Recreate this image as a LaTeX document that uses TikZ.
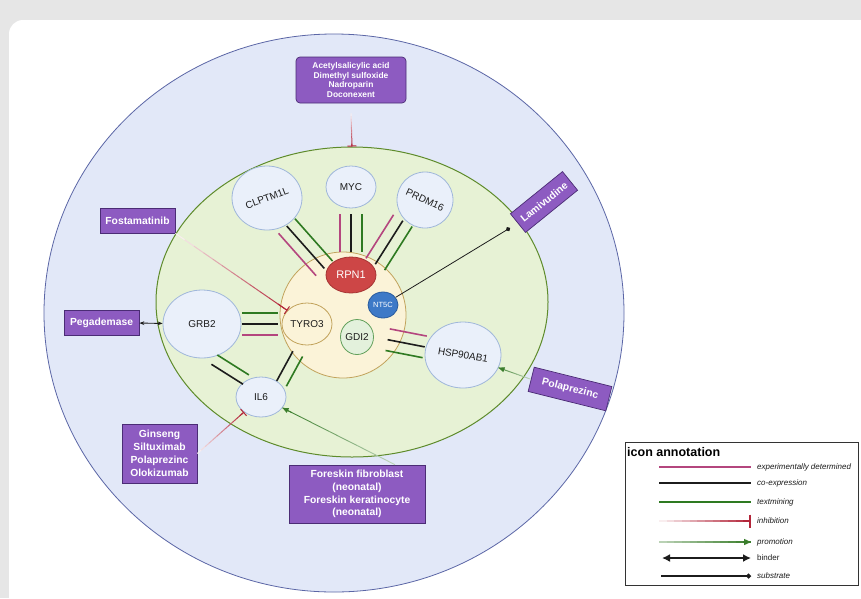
\documentclass[tikz,border=0pt]{standalone}
\usepackage{fontspec}
\setmainfont{Liberation Sans}
\usepackage{tikz}
\usetikzlibrary{calc,positioning,arrows.meta,shapes.geometric}
\usepackage{xcolor}
\definecolor{pagegray}{HTML}{E6E6E6}
\definecolor{outerfill}{HTML}{E2E8F8}
\definecolor{outerbd}{HTML}{5B66A6}
\definecolor{cellfill}{HTML}{E7F2D5}
\definecolor{cellbd}{HTML}{5E8B2B}
\definecolor{corefill}{HTML}{FBF3D8}
\definecolor{corebd}{HTML}{C2A35C}
\definecolor{genefill}{HTML}{EAF0FA}
\definecolor{genebd}{HTML}{A0B7DA}
\definecolor{rpnfill}{HTML}{CD4646}
\definecolor{rpnbd}{HTML}{A63434}
\definecolor{ntfill}{HTML}{3D79C7}
\definecolor{ntbd}{HTML}{2A5C9E}
\definecolor{gdifill}{HTML}{E3F1DC}
\definecolor{gdibd}{HTML}{62A05B}
\definecolor{drugfill}{HTML}{8D5BC1}
\definecolor{drugbd}{HTML}{4B2C75}
\definecolor{linkpink}{HTML}{B4467E}
\definecolor{linkblack}{HTML}{1C1C1C}
\definecolor{linkgreen}{HTML}{2E7A21}
\definecolor{inhred}{HTML}{B3263A}
\definecolor{progreen}{HTML}{3B7E2C}
\definecolor{legbd}{HTML}{333333}

% parallel evidence lines between two anchors
\newcommand{\triplink}[4][]{%
  \foreach \col/\off in {#4}
    \draw[link, \col, #1] ($(#2)!\off!90:(#3)$) -- ($(#3)!\off!-90:(#2)$);
}
% fading inhibition line with bar
\newcommand{\inhibit}[3][]{%
  \path (#2) -- (#3) coordinate[pos=0] (ih-s) coordinate[pos=1] (ih-e);
  \foreach \k in {1,...,12}{
    \pgfmathtruncatemacro\fadeval{100*\k/12}
    \draw[inhred!\fadeval, line width=1pt, #1] ($(ih-s)!{(\k-1)/12}!(ih-e)$) -- ($(ih-s)!{\k/12}!(ih-e)$);
  }
  \draw[inhred, line width=1pt, #1, inhtip] ($(ih-s)!{11/12}!(ih-e)$) -- (ih-e);
}
% fading promotion arrow
\newcommand{\promote}[3][]{%
  \path (#2) -- (#3) coordinate[pos=0] (pr-s) coordinate[pos=1] (pr-e);
  \foreach \k in {1,...,12}{
    \pgfmathtruncatemacro\fadeval{30+70*\k/12}
    \draw[progreen!\fadeval, line width=0.9pt, #1] ($(pr-s)!{(\k-1)/12}!(pr-e)$) -- ($(pr-s)!{\k/12}!(pr-e)$);
  }
  \draw[progreen, line width=0.9pt, #1, protip] ($(pr-s)!{11/12}!(pr-e)$) -- (pr-e);
}

\begin{document}
\begin{tikzpicture}[x=1pt, y=-1pt,
    gene/.style={ellipse, draw=genebd, fill=genefill, line width=0.8pt, inner sep=0pt,
      font=\fontsize{10}{12}\selectfont, text=linkblack},
    genelabel/.style={font=\fontsize{10}{12}\selectfont, text=linkblack, inner sep=0pt},
    drug/.style={draw=drugbd, fill=drugfill, line width=0.7pt, text=white, align=center,
      font=\bfseries\fontsize{10.3}{12.8}\selectfont, inner sep=1pt},
    link/.style={line width=1.6pt},
    inhtip/.style={-{Bar[width=9pt]}},
    protip/.style={-{Triangle[length=6pt, width=5pt]}},
    legtext/.style={font=\itshape\fontsize{8}{9}\selectfont, text=linkblack, anchor=west, inner sep=0pt}
  ]
  \useasboundingbox (0,0) rectangle (861,598);
  \fill[pagegray] (0,0) rectangle (861,598);
  \fill[white, rounded corners=14pt] (9,20) rectangle (900,640);

  % compartments
  \node[ellipse, draw=outerbd, fill=outerfill, line width=0.8pt,
    minimum width=580pt, minimum height=558pt] (extra) at (334,313) {};
  \node[ellipse, draw=cellbd, fill=cellfill, line width=1pt,
    minimum width=392pt, minimum height=310pt] (cell) at (352,302) {};
  \node[circle, draw=corebd, fill=corefill, line width=0.8pt,
    minimum size=126pt] (core) at (343,315) {};

  % proteins
  \node[gene, minimum width=70pt, minimum height=64pt] (clptm) at (267,198) {};
  \node[genelabel, rotate=21] (clptm-t) at (clptm) {CLPTM1L};
  \node[gene, minimum width=50pt, minimum height=42pt] (myc) at (351,187) {MYC};
  \node[gene, minimum width=56pt, minimum height=56pt] (prdm) at (425,200) {};
  \node[genelabel, rotate=-25] (prdm-t) at (prdm) {PRDM16};
  \node[gene, minimum width=78pt, minimum height=68pt] (grb) at (202,324) {GRB2};
  \node[gene, minimum width=50pt, minimum height=40pt] (il6) at (261,397) {IL6};
  \node[gene, minimum width=76pt, minimum height=66pt] (hsp) at (463,355) {};
  \node[genelabel, rotate=-10] (hsp-t) at (hsp) {HSP90AB1};
  \node[gene, draw=corebd, fill=corefill, minimum width=50pt, minimum height=42pt] (tyro) at (307,324) {TYRO3};
  \node[gene, draw=rpnbd, fill=rpnfill, text=white, font=\fontsize{11}{13}\selectfont,
    minimum width=50pt, minimum height=36pt] (rpn) at (351,275) {RPN1};
  \node[gene, draw=ntbd, fill=ntfill, text=white, font=\fontsize{7.5}{9}\selectfont,
    minimum width=30pt, minimum height=26pt] (nt5c) at (383,305) {NT5C};
  \node[gene, draw=gdibd, fill=gdifill, minimum width=32pt, minimum height=35pt] (gdi) at (357,337) {GDI2};

  % drugs and cells
  \node[drug, rounded corners=4pt, minimum width=110pt, minimum height=46pt,
    font=\bfseries\fontsize{8.4}{9.8}\selectfont] (acet) at (351,80)
    {Acetylsalicylic acid\\Dimethyl sulfoxide\\Nadroparin\\Doconexent};
  \node[drug, minimum width=75pt, minimum height=25pt] (fost) at (137.5,220.5) {Fostamatinib};
  \node[drug, minimum width=75pt, minimum height=25pt] (pegad) at (101.5,322.5) {Pegademase};
  \node[drug, rotate=39, minimum width=67pt, minimum height=24pt] (lamiv) at (544,202) {Lamivudine};
  \node[drug, rotate=-14, minimum width=80pt, minimum height=25pt] (polap) at (570,389) {Polaprezinc};
  \node[drug, minimum width=75pt, minimum height=59pt] (gins) at (159.5,453.5)
    {Ginseng\\Siltuximab\\Polaprezinc\\Olokizumab};
  \node[drug, minimum width=136pt, minimum height=58pt] (fore) at (357,494)
    {Foreskin fibroblast\\(neonatal)\\Foreskin keratinocyte\\(neonatal)};

  % interactions
  \triplink[shorten <=1pt, shorten >=3pt]{clptm.-55}{rpn.170}{linkpink/-11pt, linkblack/0pt, linkgreen/11pt}
  \triplink[shorten <=6pt, shorten >=5pt]{myc.south}{rpn.north}{linkpink/-11pt, linkblack/0pt, linkgreen/11pt}
  \triplink[shorten <=2pt, shorten >=3pt]{prdm.-138}{rpn.20}{linkpink/-11pt, linkblack/0pt, linkgreen/11pt}
  \triplink[shorten <=1pt, shorten >=4pt]{grb.east}{tyro.west}{linkpink/-11pt, linkblack/0pt, linkgreen/11pt}
  \triplink[shorten <=4pt, shorten >=1pt]{grb.-75}{il6.130}{linkblack/-5.5pt, linkgreen/5.5pt}
  \triplink[shorten <=1pt, shorten >=10pt]{il6.32}{tyro.-102}{linkblack/5.5pt, linkgreen/-5.5pt}
  \triplink[shorten <=1pt, shorten >=14pt]{hsp.168}{gdi.0}{linkpink/-11pt, linkblack/0pt, linkgreen/11pt}

  \inhibit{[yshift=-10pt]acet.south}{cell.north}
  \inhibit{fost.south east}{tyro}
  \inhibit{gins.east}{il6}
  \promote{polap.west}{hsp}
  \promote{[xshift=38pt]fore.north}{il6}
  \draw[linkblack, line width=0.8pt, shorten >=9pt, -{Circle[length=4.5pt]}] (nt5c) -- (lamiv.west);
  \draw[linkblack, line width=0.9pt, {Stealth[length=5pt]}-{Stealth[length=5pt]}] (pegad) -- (grb);

  % legend
  \node[draw=legbd, line width=0.8pt, fill=white, minimum width=233pt, minimum height=143pt,
    inner sep=0pt] (legend) at (741.5,513.5) {};
  \node[font=\bfseries\fontsize{12.5}{14}\selectfont, anchor=west, inner sep=0pt] (legtitle) at (627,452) {icon annotation};
  \foreach \nm/\yy in {pink/467, black/483, green/502, inh/521, pro/542, bind/558, sub/576}{
    \coordinate (leg-\nm-a) at (659,\yy);
    \coordinate (leg-\nm-b) at (751,\yy);
  }
  \draw[linkpink, line width=2.4pt] (leg-pink-a) -- (leg-pink-b);
  \draw[linkblack, line width=2.4pt] (leg-black-a) -- (leg-black-b);
  \draw[linkgreen, line width=2.4pt] (leg-green-a) -- (leg-green-b);
  \begin{scope}[inhtip/.style={-{Bar[width=13pt]}}, protip/.style={-{Triangle[length=7pt, width=6pt]}}]
    \inhibit[line width=2pt]{leg-inh-a}{leg-inh-b}
    \promote[line width=1.2pt]{leg-pro-a}{leg-pro-b}
  \end{scope}
  \draw[linkblack, line width=1.8pt, {Latex[length=8pt, width=8pt]}-{Latex[length=8pt, width=8pt]}]
    ([xshift=3pt]leg-bind-a) -- (leg-bind-b);
  \draw[linkblack, line width=1.2pt, -{Circle[length=5pt]}] ([xshift=2pt]leg-sub-a) -- (leg-sub-b);
  \node[legtext, right=6pt of leg-pink-b] (leg-pink-t) {experimentally determined};
  \node[legtext, right=6pt of leg-black-b] (leg-black-t) {co-expression};
  \node[legtext, right=6pt of leg-green-b] (leg-green-t) {textmining};
  \node[legtext, right=6pt of leg-inh-b] (leg-inh-t) {inhibition};
  \node[legtext, right=6pt of leg-pro-b] (leg-pro-t) {promotion};
  \node[legtext, font=\fontsize{8}{9}\selectfont, right=6pt of leg-bind-b] (leg-bind-t) {binder};
  \node[legtext, right=6pt of leg-sub-b] (leg-sub-t) {substrate};
\end{tikzpicture}
\end{document}
